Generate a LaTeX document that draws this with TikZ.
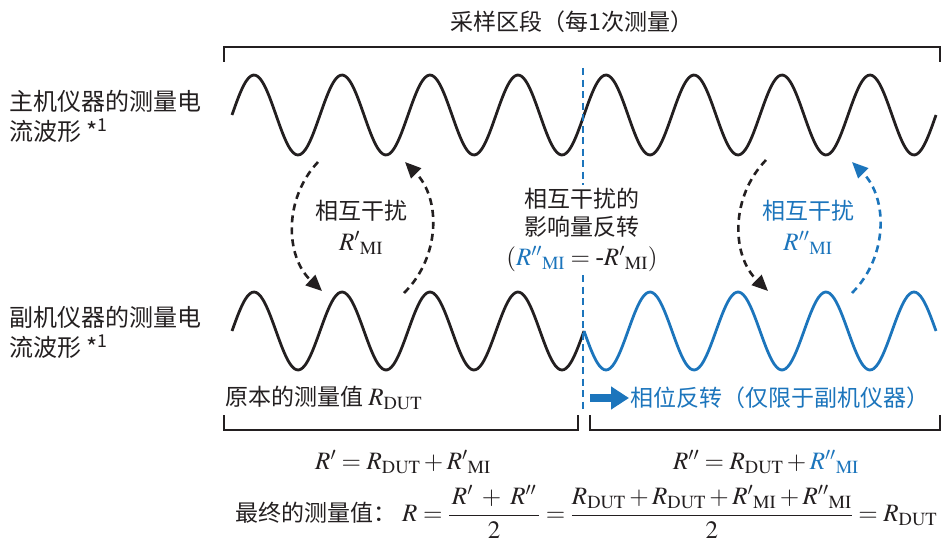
\documentclass[tikz,border=0pt]{standalone}
\usepackage{mathptmx}
\usepackage[no-math]{fontspec}
\setmainfont{Noto Sans CJK SC}
\newfontfamily\tms{Liberation Serif}
\usepackage{tikz}
\usetikzlibrary{arrows.meta,positioning}
\definecolor{ink}{HTML}{231F20}
\definecolor{flipblue}{HTML}{1C75BC}
\tikzset{
  wave/.style    ={line width=2.8pt,draw=ink,line join=round},
  flipwave/.style={wave,draw=flipblue},
  brack/.style   ={line width=2.2pt,draw=ink},
  marker/.style  ={line width=2.2pt,draw=flipblue,dash pattern=on 7pt off 4.5pt},
  mutual/.style  ={-{Triangle[length=16pt,width=14pt]},line width=2.6pt,draw=ink,
                   dash pattern=on 7pt off 5pt,bend right=45},
  mutualb/.style ={mutual,draw=flipblue},
  lbl/.style     ={text=ink,inner sep=1pt,font=\fontsize{23}{28}\selectfont},
  sidelbl/.style ={lbl,align=left,anchor=north west,font=\fontsize{24}{30}\selectfont},
  eq/.style      ={text=ink,inner sep=1pt,font=\fontsize{25}{30}\selectfont},
  fliparrow/.style={-{Triangle[length=18pt,width=22pt]},line width=8pt,draw=flipblue}
}
\newcommand{\Rp}{{R'}}
\newcommand{\Rpp}{{R''}}
\newcommand{\sub}[1]{_{\mathrm{#1}}}

\begin{document}
\begin{tikzpicture}[x=1pt,y=-1pt]
    \useasboundingbox (0,0) rectangle (942,543);
    % sampling span
    \node[lbl] (span) at (572,22) {采样区段（每1次测量）};
    \draw[brack] (224,62) -- (224,47) -- (940,47) -- (940,62);
    % waveforms
    \node[sidelbl] (mainlbl) at (8,89) {主机仪器的测量电\\流波形 *\textsuperscript{1}};
    \node[sidelbl] (sublbl) at (8,305) {副机仪器的测量电\\流波形 *\textsuperscript{1}};
    \draw[wave] plot[domain=232:936,samples=300,smooth] (\x,{115-40*sin((\x-232)/88*360)});
    \draw[wave] plot[domain=232:584,samples=160,smooth] (\x,{331-39*sin((\x-232)/88*360)});
    \draw[flipwave] plot[domain=584:936,samples=160,smooth] (\x,{331+39*sin((\x-232)/88*360)});
    \draw[marker] (583,68) -- (583,412);
    % mutual interference
    \coordinate (d1s) at (318,162); \coordinate (d1e) at (322,291);
    \coordinate (u1s) at (404,293); \coordinate (u1e) at (405,162);
    \coordinate (d2s) at (766,160); \coordinate (d2e) at (768,291);
    \coordinate (u2s) at (852,293); \coordinate (u2e) at (852,162);
    \draw[mutual] (d1s) to (d1e);
    \draw[mutual] (u1s) to (u1e);
    \draw[mutual] (d2s) to (d2e);
    \draw[mutualb] (u2s) to (u2e);
    \node[lbl,align=center] (mi1) at (361,227) {相互干扰\\[3pt]{\fontsize{25}{30}\selectfont$\Rp\sub{MI}$}};
    \node[lbl,align=center,text=flipblue] (mi2) at (808,227) {相互干扰\\[3pt]{\fontsize{25}{30}\selectfont$\Rpp\sub{MI}$}};
    \node[lbl,align=center,fill=white,inner sep=3pt] (flipnote) at (582,230)
      {相互干扰的\\影响量反转\\[2pt]{\fontsize{25}{30}\selectfont$(\textcolor{flipblue}{\Rpp\sub{MI}} = \mbox{\tms -}\Rp\sub{MI})$}};
    % results
    \node[lbl,anchor=west] (orig) at (224,398) {原本的测量值 {\fontsize{25}{30}\selectfont$R\sub{DUT}$}};
    \node[lbl,anchor=west,text=flipblue] (fliptxt) at (629,398) {相位反转（仅限于副机仪器）};
    \coordinate (fs) at (590,398);
    \draw[fliparrow] (fs) -- (fliptxt.west);
    \draw[brack] (224,415) -- (224,430) -- (578,430) -- (578,415);
    \draw[brack] (590,415) -- (590,430) -- (940,430) -- (940,415);
    \node[eq] (eq1) at (403,462) {$R' = R\sub{DUT} + \Rp\sub{MI}$};
    \node[eq] (eq2) at (766,462) {$R'' = R\sub{DUT} + \textcolor{flipblue}{\Rpp\sub{MI}}$};
    \node[lbl,anchor=west] (final) at (234,512) {最终的测量值：\hspace{6pt}{\fontsize{25}{30}\selectfont$R = \displaystyle\frac{\,R' \;+\; R''\,}{2} = \frac{R\sub{DUT} + R\sub{DUT} + \Rp\sub{MI} + \Rpp\sub{MI}}{2} = R\sub{DUT}$}};
\end{tikzpicture}
\end{document}
